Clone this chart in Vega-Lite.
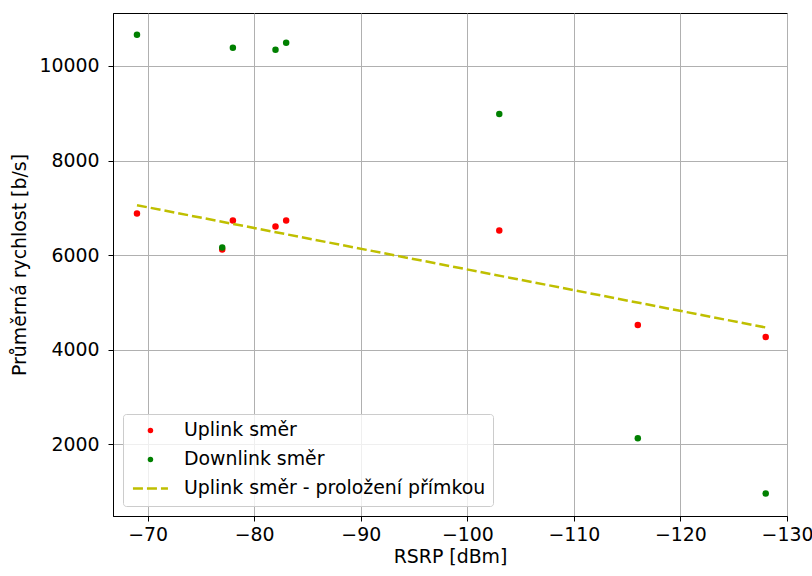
{
  "$schema": "https://vega.github.io/schema/vega-lite/v6.json",
  "width": 674,
  "height": 503,
  "autosize": {"type": "none"},
  "padding": {"left": 113, "top": 13, "right": 25, "bottom": 60},
  "background": "white",
  "config": {
    "font": "DejaVu Sans",
    "view": {"stroke": "black", "strokeWidth": 1},
    "axis": {
      "domainColor": "black",
      "domainWidth": 1,
      "tickColor": "black",
      "tickSize": 5,
      "tickWidth": 1,
      "gridColor": "#b0b0b0",
      "gridWidth": 1,
      "labelFont": "DejaVu Sans",
      "labelFontSize": 18.9,
      "labelColor": "black",
      "titleFont": "DejaVu Sans",
      "titleFontSize": 18.9,
      "titleFontWeight": "normal",
      "titleColor": "black"
    }
  },
  "datasets": {
    "pts": [
      {"rsrp": -69, "speed": 6880, "series": "Uplink směr"},
      {"rsrp": -77, "speed": 6117, "series": "Uplink směr"},
      {"rsrp": -78, "speed": 6732, "series": "Uplink směr"},
      {"rsrp": -82, "speed": 6605, "series": "Uplink směr"},
      {"rsrp": -83, "speed": 6732, "series": "Uplink směr"},
      {"rsrp": -103, "speed": 6520, "series": "Uplink směr"},
      {"rsrp": -116, "speed": 4525, "series": "Uplink směr"},
      {"rsrp": -128, "speed": 4270, "series": "Uplink směr"},
      {"rsrp": -69, "speed": 10658, "series": "Downlink směr"},
      {"rsrp": -77, "speed": 6159, "series": "Downlink směr"},
      {"rsrp": -78, "speed": 10382, "series": "Downlink směr"},
      {"rsrp": -82, "speed": 10340, "series": "Downlink směr"},
      {"rsrp": -83, "speed": 10488, "series": "Downlink směr"},
      {"rsrp": -103, "speed": 8981, "series": "Downlink směr"},
      {"rsrp": -116, "speed": 2127, "series": "Downlink směr"},
      {"rsrp": -128, "speed": 960, "series": "Downlink směr"}
    ],
    "fit": [
      {"rsrp": -69, "speed": 7055, "series": "Uplink směr - proložení přímkou"},
      {"rsrp": -128, "speed": 4471, "series": "Uplink směr - proložení přímkou"}
    ]
  },
  "resolve": {"scale": {"color": "independent"}, "legend": {"color": "independent"}},
  "layer": [
    {
      "data": {"name": "pts"},
      "mark": {"type": "point", "filled": true, "opacity": 1, "size": 42},
      "encoding": {
        "x": {
          "field": "rsrp", "type": "quantitative",
          "scale": {"domain": [-130, -66.75], "reverse": true, "nice": false, "zero": false},
          "axis": {"values": [-70, -80, -90, -100, -110, -120, -130], "title": "RSRP [dBm]", "labelPadding": 4, "titlePadding": 4, "labelFlush": false}
        },
        "y": {
          "field": "speed", "type": "quantitative",
          "scale": {"domain": [486, 11118], "nice": false, "zero": false},
          "axis": {"values": [2000, 4000, 6000, 8000, 10000], "format": "d", "title": "Průměrná rychlost [b/s]", "labelPadding": 9, "titlePadding": 9, "labelFlush": false}
        },
        "color": {
          "field": "series", "type": "nominal", "sort": null,
          "scale": {
            "domain": ["Uplink směr", "Downlink směr"],
            "range": ["#ff0000", "#008000"]
          },
          "legend": null
        }
      }
    },
    {
      "data": {"name": "fit"},
      "mark": {"type": "line", "strokeWidth": 2.5, "strokeDash": [10, 4]},
      "encoding": {
        "x": {"field": "rsrp", "type": "quantitative"},
        "y": {"field": "speed", "type": "quantitative"},
        "color": {
          "field": "series", "type": "nominal", "sort": null,
          "scale": {
            "domain": ["Uplink směr", "Downlink směr", "Uplink směr - proložení přímkou"],
            "range": ["#ff0000", "#008000", "#bfbf00"]
          },
          "legend": {
            "title": null,
            "orient": "bottom-left",
            "offset": 10,
            "padding": 7,
            "symbolSize": 400,
            "symbolOffset": 11,
            "labelOffset": 24,
            "rowPadding": 9,
            "labelLimit": 500,
            "labelFont": "DejaVu Sans",
            "labelFontSize": 18.9,
            "labelColor": "black",
            "strokeColor": "#cccccc",
            "cornerRadius": 3,
            "fillColor": "rgba(255,255,255,0.8)",
            "encode": {
              "symbols": {
                "update": {
                  "shape": {"signal": "datum.value === 'Uplink směr - proložení přímkou' ? 'M-1.75,0H1.75' : 'circle'"},
                  "size": {"signal": "datum.value === 'Uplink směr - proložení přímkou' ? 400 : 30"},
                  "fill": {"signal": "datum.value === 'Uplink směr - proložení přímkou' ? 'transparent' : (datum.value === 'Uplink směr' ? '#ff0000' : '#008000')"},
                  "strokeWidth": {"signal": "datum.value === 'Uplink směr - proložení přímkou' ? 2.5 : 0"},
                  "strokeDash": {"signal": "datum.value === 'Uplink směr - proložení přímkou' ? [10, 4] : [1, 0]"},
                  "opacity": {"value": 1}
                }
              }
            }
          }
        }
      }
    }
  ]
}
